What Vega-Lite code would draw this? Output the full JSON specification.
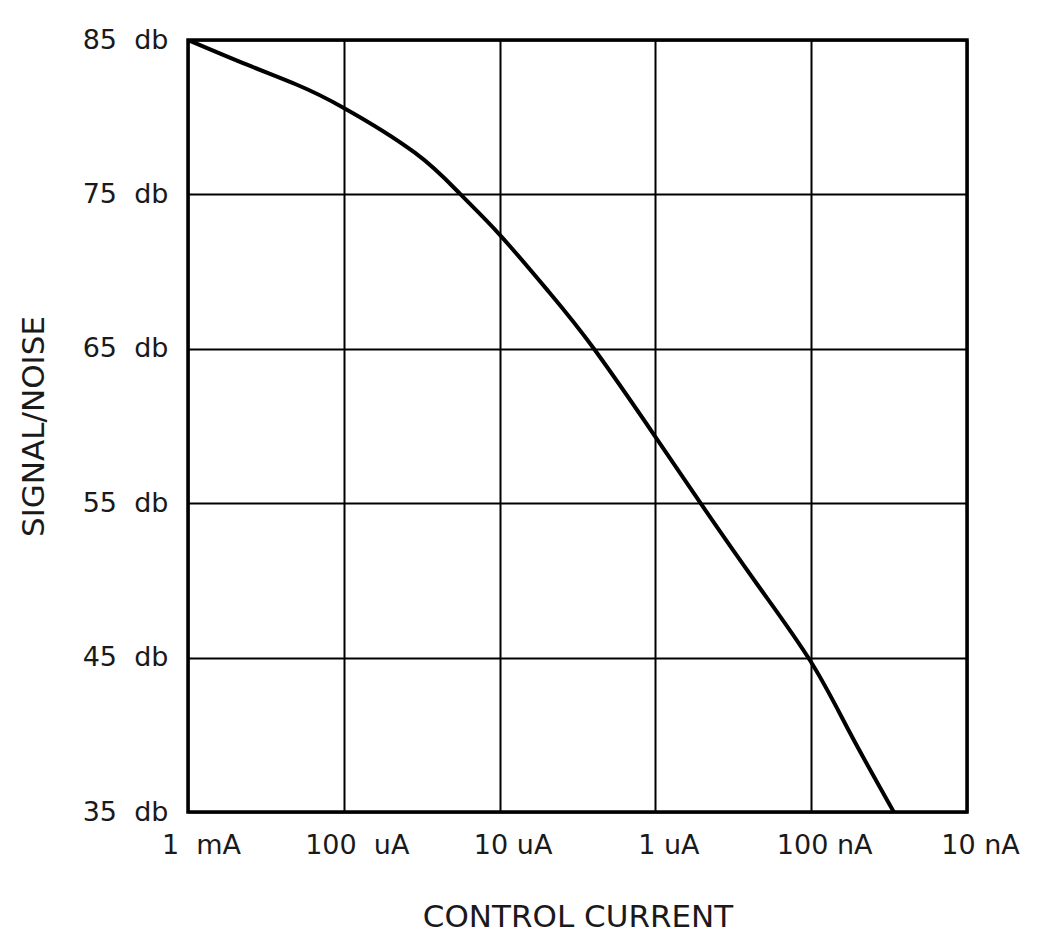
{
  "$schema": "https://vega.github.io/schema/vega-lite/v6.json",
  "width": 779,
  "height": 772,
  "autosize": "none",
  "padding": {"left": 188, "top": 40, "right": 74, "bottom": 132},
  "background": "white",
  "config": {
    "view": {"stroke": "#000", "strokeWidth": 3.5},
    "font": "DejaVu Sans"
  },
  "data": {
    "values": [
      {"current": 0.001, "sn": 85},
      {"current": 0.000418, "sn": 83.4},
      {"current": 0.0002, "sn": 82.1},
      {"current": 0.0001, "sn": 80.6},
      {"current": 0.000035, "sn": 77.7},
      {"current": 0.0000178, "sn": 75},
      {"current": 0.00001, "sn": 72.4},
      {"current": 0.00000484, "sn": 68.7},
      {"current": 0.00000248, "sn": 65},
      {"current": 0.000001, "sn": 59.3},
      {"current": 0.000000513, "sn": 55},
      {"current": 0.000000224, "sn": 49.8},
      {"current": 0.0000001, "sn": 44.7},
      {"current": 0.0000000562, "sn": 40.1},
      {"current": 0.0000000295, "sn": 35}
    ]
  },
  "mark": {"type": "line", "color": "#000", "strokeWidth": 4, "interpolate": "natural", "clip": true},
  "encoding": {
    "x": {
      "field": "current",
      "type": "quantitative",
      "scale": {"type": "log", "domain": [1e-8, 1e-3], "reverse": true, "nice": false},
      "axis": {
        "title": "CONTROL CURRENT",
        "values": [0.001, 0.0001, 0.00001, 0.000001, 0.0000001, 0.00000001],
        "labelExpr": "datum.value > 5e-4 ? '1\u00a0\u00a0mA' : datum.value > 5e-5 ? '100\u00a0\u00a0uA' : datum.value > 5e-6 ? '10\u00a0uA' : datum.value > 5e-7 ? '1\u00a0uA' : datum.value > 5e-8 ? '100\u00a0nA' : '10\u00a0nA'",
        "domain": false,
        "ticks": false,
        "grid": true,
        "gridColor": "#000",
        "gridWidth": 2,
        "gridOpacity": 1,
        "labelFontSize": 27,
        "labelColor": "#1a1a1a",
        "labelPadding": 20,
        "labelOffset": 13,
        "labelFlush": false,
        "labelOverlap": false,
        "labelBound": false,
        "titleFontSize": 31,
        "titleFontWeight": "normal",
        "titleColor": "#1a1a1a",
        "titlePadding": 44
      }
    },
    "y": {
      "field": "sn",
      "type": "quantitative",
      "scale": {"domain": [35, 85], "nice": false, "zero": false},
      "axis": {
        "title": "SIGNAL/NOISE",
        "values": [35, 45, 55, 65, 75, 85],
        "labelExpr": "datum.value + '\u00a0\u00a0db'",
        "domain": false,
        "ticks": false,
        "grid": true,
        "gridColor": "#000",
        "gridWidth": 2,
        "gridOpacity": 1,
        "labelFontSize": 27,
        "labelColor": "#1a1a1a",
        "labelPadding": 20,
        "labelFlush": false,
        "labelOverlap": false,
        "labelBound": false,
        "titleFontSize": 31,
        "titleFontWeight": "normal",
        "titleColor": "#1a1a1a",
        "titlePadding": 32
      }
    }
  }
}
